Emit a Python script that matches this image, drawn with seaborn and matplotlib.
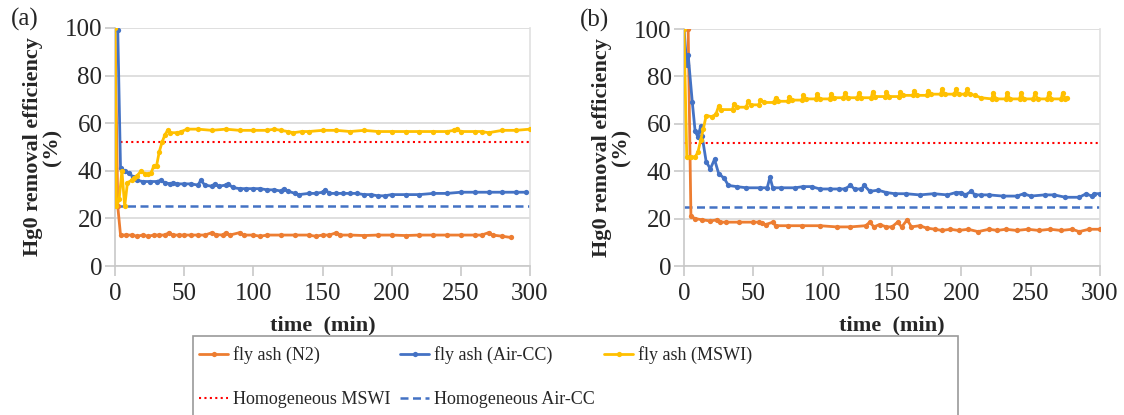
import numpy as np
import pandas as pd
import matplotlib
matplotlib.use('Agg')
import matplotlib.pyplot as plt
import seaborn as sns
from matplotlib.patches import Rectangle

# ---- painel (a) ----
a_n2_t = [0, 2, 4, 8, 12, 16, 20, 24, 28, 32, 36, 39, 42, 46, 50, 55, 60, 65, 70, 73,
          78, 80, 83, 90, 93, 100, 105, 110, 120, 130, 140, 145, 150, 155, 160, 163, 170, 180, 190, 200,
          210, 220, 230, 240, 250, 260, 265, 270, 273, 280, 286]
a_n2 = [100, 25, 13, 13, 13, 12.5, 13, 12.5, 13, 13, 13, 14, 13, 13, 13, 13, 13, 13, 14, 13.2,
        13, 14, 13, 14, 13, 13, 12.5, 13, 13, 13, 13, 12.5, 13, 13, 14, 13, 13, 12.8, 13, 13,
        12.8, 13, 13, 13, 13, 13, 13, 14, 13, 12.5, 12]

a_air_t = [0, 2, 4, 7, 10, 13, 16, 20, 25, 30, 33, 36, 40, 42, 45, 50, 55, 60, 62, 65,
           70, 72, 75, 80, 82, 85, 90, 95, 100, 105, 110, 115, 120, 122, 125, 130, 133, 140, 145, 150,
           152, 155, 160, 165, 170, 175, 180, 185, 190, 195, 200, 210, 220, 230, 240, 250, 260, 270, 280, 290,
           297]
a_air = [100, 99, 41, 40, 39, 37.5, 36, 35.5, 35.5, 35.5, 36, 35, 34.5, 35, 34.5, 34.5, 34.5, 34, 36, 34,
         33.5, 34.5, 33.5, 34, 34.5, 33, 32.5, 32.5, 32.5, 32.5, 32, 32, 31.5, 32.5, 31.5, 30.5, 30, 30.5, 30.5, 31,
         32, 30.5, 30.5, 30.5, 30.5, 30.5, 30, 30, 29.5, 29.5, 30, 30, 30, 30.5, 30.5, 31, 31, 31, 31, 31,
         31]

a_mswi_t = [0, 1, 3, 5, 7, 9, 12, 14, 16, 19, 22, 24, 26, 28, 30, 32, 34, 36, 38, 40,
            45, 48, 52, 60, 70, 80, 90, 100, 110, 115, 120, 125, 129, 135, 140, 150, 160, 170, 180, 190,
            200, 210, 220, 230, 240, 245, 247, 250, 260, 265, 270, 280, 290, 300]
a_mswi = [100, 25, 28, 40, 25, 35, 36, 37, 38, 40, 38.5, 38.5, 39, 42, 42, 48, 52, 55, 57, 56,
          56, 56.5, 57.5, 57.5, 57, 57.5, 57, 57, 57, 57.5, 57, 56.5, 56, 56.5, 56.5, 57, 57, 56.5, 57, 56.5,
          56.5, 56.5, 56.5, 56.5, 56.5, 57, 57.5, 56.5, 56.5, 56.5, 56, 57, 57, 57.5]

# ---- painel (b) ----
b_n2_t = [0, 3, 5, 8, 13, 19, 24, 26, 30, 40, 50, 54, 56, 59, 64, 66, 75, 85, 98, 110,
          120, 131, 134, 137, 141, 146, 150, 154, 157, 161, 164, 170, 175, 181, 186, 192, 198, 205, 212, 220,
          226, 232, 240, 248, 256, 264, 272, 280, 285, 292, 300]
b_n2 = [100, 100, 21, 20, 19.5, 19, 19.5, 18.5, 18.5, 18.5, 18.5, 18.5, 18, 17.5, 18.5, 17, 17, 17, 17, 16.5,
        16.5, 17, 18.5, 16.5, 17.5, 16.5, 16.5, 18.5, 16.5, 19.5, 16.5, 17, 16, 15.5, 15, 15.5, 15, 15.5, 14.5, 15.5,
        15, 15.5, 15, 15.5, 15, 15.5, 15, 15.5, 14.5, 15.5, 15.5]

b_air_t = [0, 2, 3, 6, 8, 10, 12, 13, 16, 19, 22, 25, 29, 32, 38, 45, 55, 60, 62, 64,
           70, 80, 86, 92, 98, 105, 112, 116, 120, 123, 128, 130, 134, 140, 146, 152, 160, 170, 180, 190,
           196, 200, 203, 207, 210, 214, 220, 230, 240, 245, 250, 260, 267, 275, 285, 290, 294, 296, 300]
b_air = [100, 85, 89, 69, 57, 54.5, 59, 55, 44, 41, 45, 39, 37, 34, 33.5, 33, 33, 33, 37.5, 33,
         33, 33, 33.5, 33.5, 32.5, 32.5, 32.5, 32.5, 34, 32.5, 32.5, 34, 31.5, 32, 31, 30.5, 30.5, 30, 30.5, 30,
         31, 31, 30, 31.5, 30, 30, 30, 29.5, 29.5, 30.5, 29.5, 30, 30, 29, 29, 30.5, 29.5, 30.5, 30.5]

b_mswi_t = [0, 2, 5, 8, 10, 12, 14, 16, 20, 23,
            25, 27, 35, 36, 38, 45, 46, 48, 54, 55,
            58, 65, 66, 68, 75, 76, 78, 85, 86, 88,
            95, 96, 98, 105, 106, 108, 115, 116, 118, 125,
            126, 128, 135, 136, 138, 145, 146, 148, 155, 156,
            158, 165, 166, 168, 175, 176, 178, 185, 186, 188,
            195, 196, 198, 203, 204, 206, 210, 214, 222, 223,
            225, 232, 233, 235, 242, 243, 245, 252, 253, 255,
            262, 263, 265, 272, 273, 275, 276]
b_mswi = [100, 46, 46, 46, 48, 53, 58, 63.5, 63, 64,
          67.5, 66, 66, 68.5, 67, 67, 69.5, 68, 68, 70,
          69, 69, 71, 69.5, 69.5, 71.5, 70, 70, 72, 70.5,
          70.5, 72.5, 70.5, 70.5, 72.5, 71, 71, 73, 71, 71,
          73, 71, 71, 73.5, 71.5, 71.5, 73.5, 71.5, 71.5, 73.5,
          72, 72, 74, 72, 72, 74, 72.5, 72.5, 74.5, 72.5,
          72.5, 74.5, 72.5, 72.5, 74.5, 72.5, 72, 71, 70.5, 73,
          70.5, 70.5, 73, 70.5, 70.5, 73, 70.5, 70.5, 73, 70.5,
          70.5, 73, 70.5, 70.5, 73, 70.5, 71]

# niveis de referencia (homogeneous)
hom_x = [0, 300]
hom_mswi = [52, 52]
hom_air = [25, 25]

labels = ['fly ash (N2)', 'fly ash (Air-CC)', 'fly ash (MSWI)',
          'Homogeneous MSWI', 'Homogeneous Air-CC']
cores = ['#ED7D31', '#4472C4', '#FFC000']

sns.set_style('white')
plt.rcParams['font.family'] = ['Liberation Serif', 'DejaVu Serif']

fig = plt.figure(figsize=(11.24, 4.15), dpi=100)
ax1 = fig.add_axes([115 / 1124, 1 - 266 / 415, 415 / 1124, 238 / 415])
ax2 = fig.add_axes([684 / 1124, 1 - 266 / 415, 416 / 1124, 237 / 415])


def painel(ax, series, letra):
    sns.lineplot(x=hom_x, y=hom_mswi, ax=ax, color='#FF0000', linewidth=1.5,
                 linestyle=(0, (1, 1.6)), zorder=2)
    sns.lineplot(x=hom_x, y=hom_air, ax=ax, color='#4472C4', linewidth=1.8,
                 linestyle=(0, (3.2, 1.8)), zorder=2)
    for (t, v), cor in zip(series, cores):
        sns.lineplot(x=t, y=v, ax=ax, color=cor, linewidth=2.0, marker='o',
                     markersize=3.8, markeredgewidth=0, zorder=3)

    ax.set_xlim(0, 300)
    ax.set_ylim(0, 100)
    ax.set_xticks(range(0, 301, 50))
    ax.set_yticks(range(0, 101, 20))
    ax.yaxis.grid(True, color='#d9d9d9', linewidth=1.2)
    ax.set_axisbelow(True)
    for lado in ['left', 'bottom', 'right']:
        ax.spines[lado].set_color('#c8c8c8')
        ax.spines[lado].set_linewidth(1.2)
    ax.spines['right'].set_color('#e0e0e0')
    ax.spines['top'].set_visible(False)
    ax.tick_params(axis='both', labelsize=18, length=7, width=1.2,
                   color='#c8c8c8', direction='out')
    ax.tick_params(axis='x', bottom=True, pad=5)
    ax.tick_params(axis='y', left=True, pad=2)

    ax.set_xlabel('time  (min)', fontsize=16, fontweight='bold', labelpad=8)
    ax.set_ylabel('Hg0 removal efficiency\n(%)', fontsize=16, fontweight='bold',
                  linespacing=0.95, labelpad=2)
    ax.text(-0.25, 1.034, letra, transform=ax.transAxes, fontsize=18,
            ha='left', va='center')


painel(ax1, [(a_n2_t, a_n2), (a_air_t, a_air), (a_mswi_t, a_mswi)], '(a)')
painel(ax2, [(b_n2_t, b_n2), (b_air_t, b_air), (b_mswi_t, b_mswi)], '(b)')

# legenda: primeira linha as tres series, segunda as duas referencias
h = ax1.get_lines()
hdl = {labels[3]: h[0], labels[4]: h[1], labels[0]: h[2], labels[1]: h[3], labels[2]: h[4]}
ordem = [labels[0], labels[3], labels[1], labels[4], labels[2]]
leg = fig.legend([hdl[k] for k in ordem], ordem, ncol=3, frameon=False,
                 loc='upper left', bbox_to_anchor=(193 / 1124, 1 - 340 / 415),
                 borderaxespad=0, fontsize=13, handlelength=1.6, handletextpad=0.25,
                 columnspacing=0.55, labelspacing=1.5, borderpad=0.35, numpoints=1)

fig.patches.append(Rectangle((193 / 1124, -0.05), (958 - 193) / 1124, 0.05 + 1 - 336 / 415,
                             transform=fig.transFigure, fill=False,
                             edgecolor='#9a9a9a', linewidth=1.2, clip_on=False))

fig.savefig('out.png', dpi=100)
